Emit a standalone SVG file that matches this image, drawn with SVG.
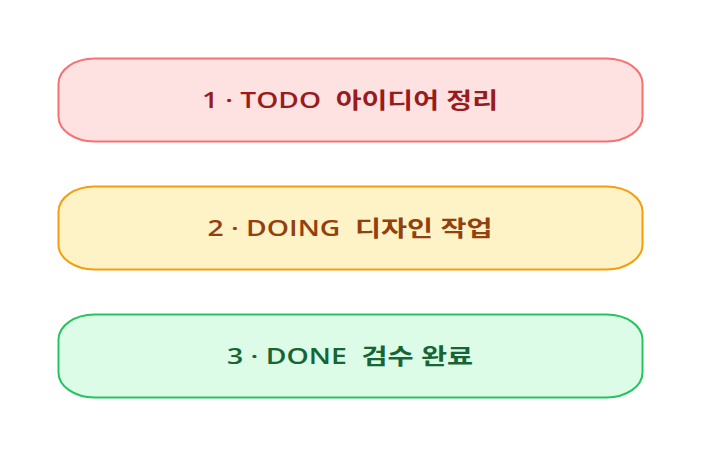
<svg xmlns="http://www.w3.org/2000/svg" width="701" height="460" viewBox="0 0 701 460">
<style>
.box{stroke-width:2}
.lbl{font-family:"Open Sans","Noto Sans CJK KR",sans-serif;font-size:22px;font-weight:600;text-anchor:middle;white-space:pre}
</style>
<rect width="701" height="460" fill="#ffffff"/>
<g id="connectors"></g>
<g id="todo">
<rect class="box" x="58.5" y="58.5" width="584" height="83" rx="36" ry="25" fill="#fee2e2" stroke="#f87171"/>
<text class="lbl" x="350" y="108" fill="#991b1b" textLength="296" lengthAdjust="spacingAndGlyphs" xml:space="preserve">1 · TODO  아이디어 정리</text>
</g>
<g id="doing">
<rect class="box" x="58.5" y="186.5" width="584" height="83" rx="36" ry="25" fill="#fef3c7" stroke="#f59e0b"/>
<text class="lbl" x="350" y="236" fill="#92400e" textLength="285" lengthAdjust="spacingAndGlyphs" xml:space="preserve">2 · DOING  디자인 작업</text>
</g>
<g id="done">
<rect class="box" x="58.5" y="314.5" width="584" height="83" rx="36" ry="25" fill="#dcfce7" stroke="#22c55e"/>
<text class="lbl" x="350" y="364" fill="#166534" textLength="246" lengthAdjust="spacingAndGlyphs" xml:space="preserve">3 · DONE  검수 완료</text>
</g>
</svg>
